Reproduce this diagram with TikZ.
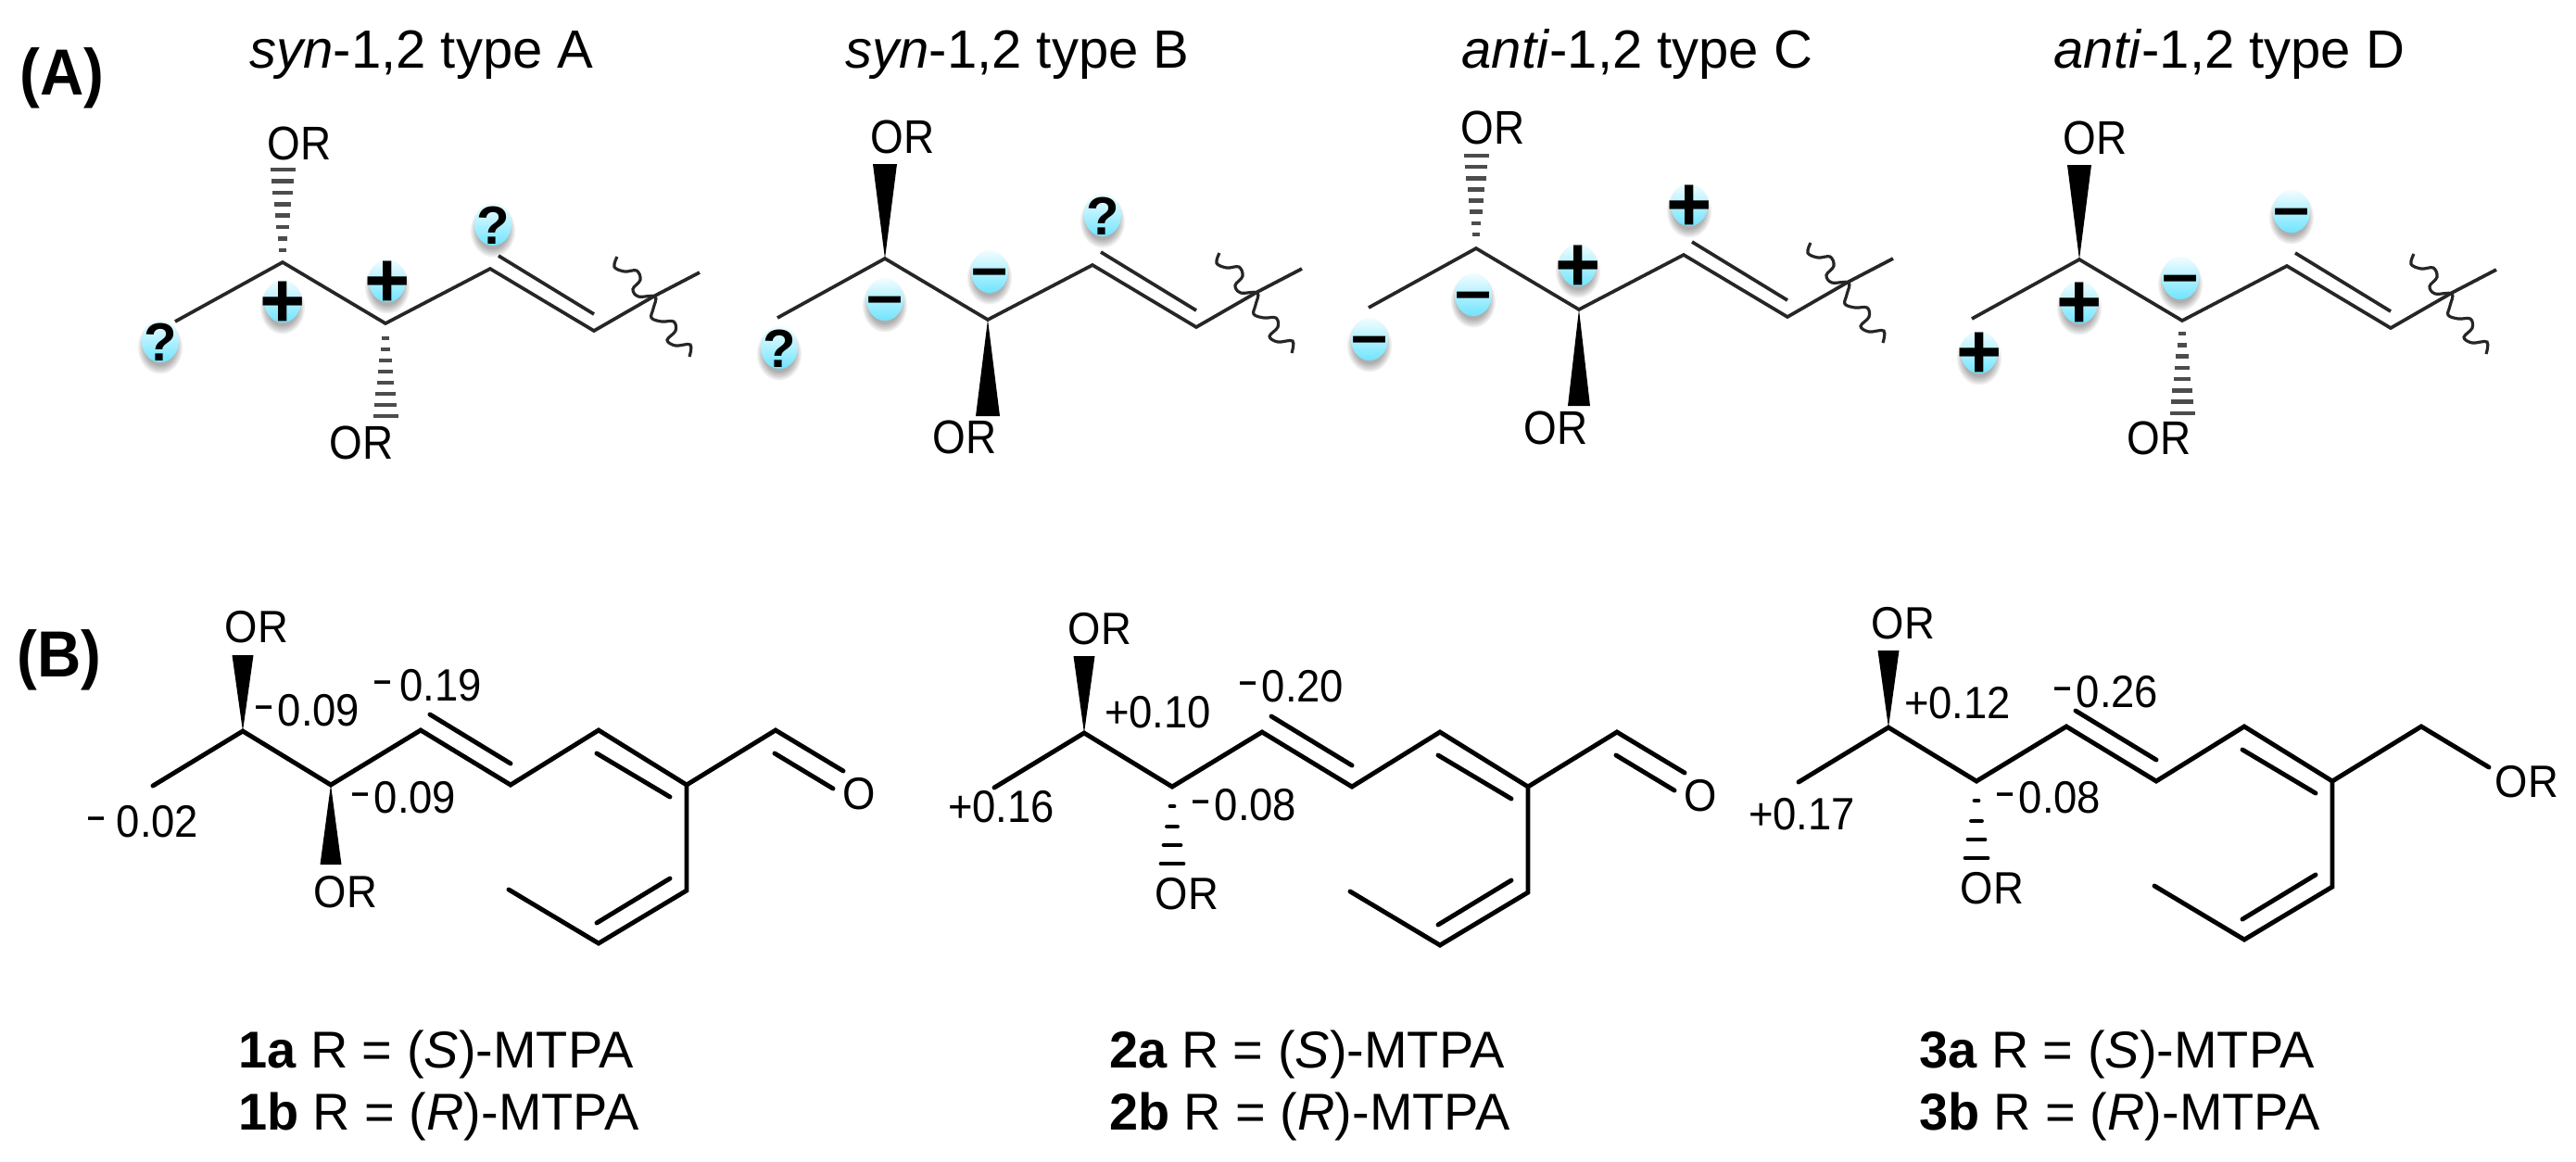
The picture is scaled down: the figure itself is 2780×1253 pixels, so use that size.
\documentclass[tikz,border=0pt]{standalone}
\usepackage{fontspec}
\setmainfont{Liberation Sans}
\newfontfamily\orfont[FakeStretch=0.9]{Liberation Sans}
\newfontfamily\hfont[FakeStretch=0.93]{Liberation Sans}
\newfontfamily\bfont[FakeStretch=0.93]{Liberation Sans}
\definecolor{bubtop}{HTML}{F2FDFF}
\definecolor{bubbot}{HTML}{70E4FF}
\definecolor{bondA}{HTML}{262626}
\newcommand{\szTitle}{\fontsize{16.5pt}{20pt}\selectfont}
\newcommand{\szHead}{\hfont\bfseries\fontsize{20pt}{24pt}\selectfont}
\newcommand{\szOR}{\orfont\fontsize{14.5pt}{18pt}\selectfont}
\newcommand{\szB}{\bfont\fontsize{13.9pt}{16pt}\selectfont}
\newcommand{\szFoot}{\fontsize{15.9pt}{18pt}\selectfont}
\newcommand{\mn}{\raisebox{2.8pt}{\fontsize{10.5pt}{10pt}\bfseries\selectfont –}\kern1.6pt}
\tikzset{
  x=0.01cm,y=-0.01cm,
  bondthin/.style={draw=bondA,line width=1.05pt,line cap=butt,line join=miter},
  bondthick/.style={draw=black,line width=1.4pt,line cap=round,line join=miter},
  hashthin/.style={draw=black!70,line width=1.3pt},
  hashthick/.style={draw=black,line width=1.4pt,line cap=round},
  wedgefill/.style={fill=black,draw=none},
  txt/.style={inner sep=0pt,outer sep=0pt,anchor=base},
  txtw/.style={inner sep=0pt,outer sep=0pt,anchor=base west},
  ctr/.style={inner sep=0pt,outer sep=0pt,anchor=center},
}
% skeleton of part A, C1 at (#2,#3)
\newcommand{\skelA}[3]{%
 \begin{scope}[shift={(#2,#3)}]
  \coordinate (#1m) at (-116,64);
  \coordinate (#1c1) at (0,0);
  \coordinate (#1c2) at (111,66);
  \coordinate (#1c3) at (224,7);
  \coordinate (#1c4) at (336,74);
  \coordinate (#1c5) at (402,36);
  \coordinate (#1e) at (450,11);
  \coordinate (#1i1) at (233,-7);
  \coordinate (#1i2) at (336,56);
  \draw[bondthin] (#1m) -- (#1c1) -- (#1c2) -- (#1c3) -- (#1c4) -- (#1c5) -- (#1e);
  \draw[bondthin] (#1i1) -- (#1i2);
  \draw[draw=bondA,line width=.9pt] plot[smooth,tension=.6] coordinates {(361,-6) (358,5) (369,10) (382,9) (386,19) (378,29) (384,37) (402,37) (400,50) (398,60) (409,64) (422,64) (424,74) (415,84) (424,90) (440,89) (439,102)};
 \end{scope}}
% wedge: tip, length (signed), half width
\newcommand{\wedgeat}[3]{\fill[wedgefill] (#1) -- ++(-#3,#2) -- ++(2*#3,0) -- cycle;}
% A hash: tip, y0, y1
\newcommand{\hashA}[3]{\foreach \i in {1,...,8}{%
  \pgfmathsetmacro\tt{(\i-1)/7}\pgfmathsetmacro\hh{13.5*(.3+.7*\tt)}\pgfmathsetmacro\yy{#2+(#3-#2)*\tt}%
  \draw[hashthin] ([shift={(-\hh,\yy)}]#1) -- ([shift={(\hh,\yy)}]#1);}}
% B hash: tip
\newcommand{\hashB}[1]{%
  \draw[hashthick] ([shift={(-2,21)}]#1) -- ([shift={(2,21)}]#1);
  \draw[hashthick] ([shift={(-5.5,43)}]#1) -- ([shift={(5.5,43)}]#1);
  \draw[hashthick] ([shift={(-9,63)}]#1) -- ([shift={(9,63)}]#1);
  \draw[hashthick] ([shift={(-12,83)}]#1) -- ([shift={(12,83)}]#1);}
% bubble: name,x,y,char,baseline offset,font size
\newcommand{\bub}[6]{%
  \foreach \k in {0,1,...,5}{\fill[black,opacity=.06] (#2,#3+7) ellipse [x radius={17+\k*1.4},y radius={20+\k*1.7}];}
  \shade[top color=bubtop,bottom color=bubbot] (#2,#3) ellipse [x radius=20,y radius=23];
  \node[txt] (#1) at (#2,#3+#5) {\bfseries\fontsize{#6pt}{#6pt}\selectfont #4};}
\newcommand{\bubP}[3]{\bub{#1}{#2}{#3}{+}{28}{24}}
\newcommand{\bubM}[3]{\bub{#1}{#2}{#3}{–}{19}{20}}
\newcommand{\bubQ}[3]{\bub{#1}{#2}{#3}{?}{21}{16.5}}
% compound skeleton of part B
\newcommand{\skelB}[3]{%
 \begin{scope}[shift={(#2,#3)}]
  \coordinate (#1m) at (-97,59);
  \coordinate (#1c1) at (0,0);
  \coordinate (#1c2) at (95,58);
  \coordinate (#1c3) at (192,-1);
  \coordinate (#1c4) at (289,58);
  \coordinate (#1c5) at (384,-1);
  \coordinate (#1c6) at (479,58);
  \coordinate (#1c7) at (575,-1);
  \coordinate (#1c9) at (479,172);
  \coordinate (#1c8) at (384,229);
  \coordinate (#1c10) at (287,171);
  \coordinate (#1a1) at (202,-18);
  \coordinate (#1a2) at (289,35);
  \coordinate (#1b1) at (382,24);
  \coordinate (#1b2) at (461,71);
  \coordinate (#1d1) at (461,159);
  \coordinate (#1d2) at (382,207);
  \coordinate (#1f) at (648,43);
  \coordinate (#1g1) at (574,24);
  \coordinate (#1g2) at (637,62);
  \draw[bondthick] (#1m) -- (#1c1) -- (#1c2) -- (#1c3) -- (#1c4) -- (#1c5) -- (#1c6) -- (#1c7) -- (#1f);
  \draw[bondthick] (#1c6) -- (#1c9) -- (#1c8) -- (#1c10);
  \draw[bondthick] (#1a1) -- (#1a2);
  \draw[bondthick] (#1b1) -- (#1b2);
  \draw[bondthick] (#1d1) -- (#1d2);
 \end{scope}}
\begin{document}
\begin{tikzpicture}
\useasboundingbox (0,0) rectangle (2780,1253);
\fill[white] (0,0) rectangle (2780,1253);
% headings
\node[txt] (hA) at (67,102) {\szHead (A)};
\node[txt] (hB) at (64,730) {\szHead (B)};
\node[txt] (tA) at (455,73) {\szTitle\textit{syn}-1,2 type A};
\node[txt] (tB) at (1098,73) {\szTitle\textit{syn}-1,2 type B};
\node[txt] (tC) at (1767,73) {\szTitle\textit{anti}-1,2 type C};
\node[txt] (tD) at (2406,73) {\szTitle\textit{anti}-1,2 type D};
% part A skeletons
\skelA{A}{305}{283}
\skelA{B}{955}{279}
\skelA{C}{1593}{268}
\skelA{D}{2244}{280}
% stereo bonds
\hashA{Ac1}{-13}{-100}
\hashA{Ac2}{16}{100}
\wedgeat{Bc1}{-102}{13}
\wedgeat{Bc2}{104}{13}
\hashA{Cc1}{-15}{-100}
\wedgeat{Cc2}{104}{12}
\wedgeat{Dc1}{-102}{13}
\hashA{Dc2}{14}{100}
% OR
\node[ctr] (orA1) at (323,155) {\szOR OR};
\node[ctr] (orA2) at (390,478) {\szOR OR};
\node[ctr] (orB1) at (974,148) {\szOR OR};
\node[ctr] (orB2) at (1041,472) {\szOR OR};
\node[ctr] (orC1) at (1611,138) {\szOR OR};
\node[ctr] (orC2) at (1679,462) {\szOR OR};
\node[ctr] (orD1) at (2261,149) {\szOR OR};
\node[ctr] (orD2) at (2330,473) {\szOR OR};
% bubbles
\bubQ{qa1}{173}{368}
\bubP{pa1}{305}{325}
\bubP{pa2}{418}{303}
\bubQ{qa2}{532}{242}
\bubQ{qb1}{841}{375}
\bubM{mb1}{955}{323}
\bubM{mb2}{1068}{293}
\bubQ{qb2}{1190}{232}
\bubM{mc1}{1478}{366}
\bubM{mc2}{1590}{318}
\bubP{pc1}{1703}{286}
\bubP{pc2}{1823}{221}
\bubP{pd1}{2136}{380}
\bubP{pd2}{2244}{326}
\bubM{md1}{2353}{300}
\bubM{md2}{2473}{228}
% part B
\skelB{P}{262}{789}
\skelB{Q}{1170}{791}
\skelB{S}{2038}{785}
% aldehydes
\draw[bondthick] (Pg1) -- (Pg2);
\draw[bondthick] (Qg1) -- (Qg2);
\node[ctr] (oP) at (927,857) {\szB O};
\node[ctr] (oQ) at (1835,859) {\szB O};
\node[ctr] (orS3) at (2727,844) {\szB OR};
% wedges/hash
\wedgeat{Pc1}{-82}{11.5}
\wedgeat{Pc2}{86}{11.5}
\wedgeat{Qc1}{-83}{11.5}
\hashB{Qc2}
\wedgeat{Sc1}{-83}{11.5}
\hashB{Sc2}
\node[ctr] (orP1) at (277,677) {\szB OR};
\node[ctr] (orP2) at (373,963) {\szB OR};
\node[ctr] (orQ1) at (1187,679) {\szB OR};
\node[ctr] (orQ2) at (1281,965) {\szB OR};
\node[ctr] (orS1) at (2054,673) {\szB OR};
\node[ctr] (orS2) at (2150,959) {\szB OR};
% shift values
\node[txtw] (v1) at (275,783) {\szB\mn 0.09};
\node[txtw] (v2) at (403,756) {\szB\mn\kern1pt 0.19};
\node[txtw] (v3) at (379,877) {\szB\mn 0.09};
\node[txtw] (v4) at (94,903) {\szB\mn\kern2pt 0.02};
\node[txtw] (v5) at (1192,785) {\szB +0.10};
\node[txtw] (v6) at (1337,757) {\szB\mn 0.20};
\node[txtw] (v7) at (1286,885) {\szB\mn 0.08};
\node[txtw] (v8) at (1023,887) {\szB +0.16};
\node[txtw] (v9) at (2055,775) {\szB +0.12};
\node[txtw] (v10) at (2216,763) {\szB\mn 0.26};
\node[txtw] (v11) at (2154,877) {\szB\mn 0.08};
\node[txtw] (v12) at (1887,895) {\szB +0.17};
% captions
\node[txtw] (c1a) at (257,1152) {\szFoot\textbf{1a} R = (\textit{S})-MTPA};
\node[txtw] (c1b) at (257,1219) {\szFoot\textbf{1b} R = (\textit{R})-MTPA};
\node[txtw] (c2a) at (1197,1152) {\szFoot\textbf{2a} R = (\textit{S})-MTPA};
\node[txtw] (c2b) at (1197,1219) {\szFoot\textbf{2b} R = (\textit{R})-MTPA};
\node[txtw] (c3a) at (2071,1152) {\szFoot\textbf{3a} R = (\textit{S})-MTPA};
\node[txtw] (c3b) at (2071,1219) {\szFoot\textbf{3b} R = (\textit{R})-MTPA};
\end{tikzpicture}
\end{document}
